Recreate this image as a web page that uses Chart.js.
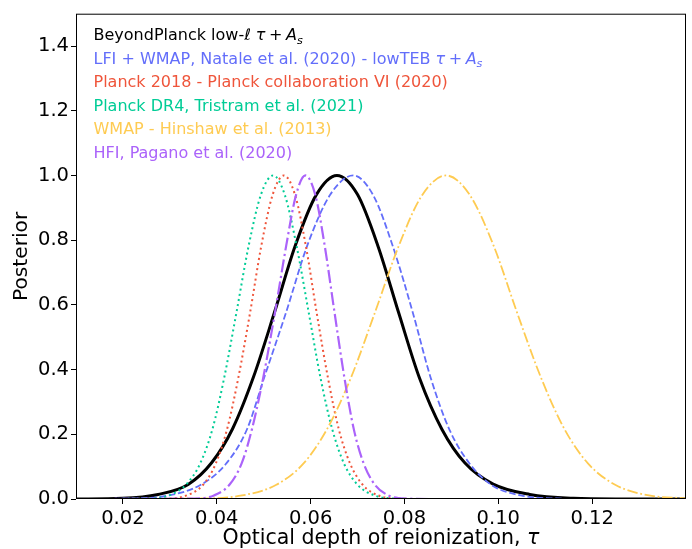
<!DOCTYPE html>
<html>
<head>
<meta charset="utf-8">
<script src="https://cdn.jsdelivr.net/npm/chart.js@4/dist/chart.umd.min.js"></script>
<style>
  html, body { margin: 0; padding: 0; background: #fff; }
  canvas { display: block; }
</style>
</head>
<body>
<canvas id="c" width="692" height="549"></canvas>
<script>
// Tick positions
const xTicks = [0.02, 0.04, 0.06, 0.08, 0.10, 0.12];
const yTicks = [0.0, 0.2, 0.4, 0.6, 0.8, 1.0, 1.2, 1.4];

// Axis titles and legend labels ($...$ marks math-mode text)
const xTitle = "Optical depth of reionization, $τ$";
const yTitle = "Posterior";
const seriesLabels = [
  "BeyondPlanck low-$ℓ$ $τ + A_s$",
  "LFI + WMAP, Natale et al. (2020) - lowTEB $τ + A_s$",
  "Planck 2018 - Planck collaboration VI (2020)",
  "Planck DR4, Tristram et al. (2021)",
  "WMAP - Hinshaw et al. (2013)",
  "HFI, Pagano et al. (2020)"
];

// BeyondPlanck low-l tau + A_s
const bpTau  = [0.010, 0.0199, 0.0275, 0.0339, 0.0389, 0.0434, 0.0478, 0.0523, 0.0567, 0.0612, 0.0656, 0.0700, 0.0744, 0.0788, 0.0832, 0.0880, 0.0929, 0.0989, 0.1067, 0.1160, 0.1250, 0.1400];
const bpPost = [0, 0.002, 0.014, 0.045, 0.112, 0.218, 0.376, 0.577, 0.782, 0.940, 1.000, 0.941, 0.780, 0.574, 0.374, 0.215, 0.111, 0.046, 0.014, 0.002, 0, 0];

// LFI + WMAP, Natale et al. (2020)
const natTau  = [0.010, 0.0219, 0.0298, 0.0366, 0.0418, 0.0464, 0.0501, 0.0548, 0.0593, 0.0642, 0.0691, 0.0733, 0.0775, 0.0818, 0.0856, 0.0896, 0.0939, 0.0986, 0.1048, 0.1123, 0.1200, 0.1400];
const natPost = [0, 0.0015, 0.011, 0.044, 0.106, 0.214, 0.375, 0.578, 0.784, 0.941, 1.000, 0.940, 0.782, 0.575, 0.374, 0.214, 0.109, 0.043, 0.011, 0.0015, 0, 0];

// Planck 2018 - Planck collaboration VI (2020)
const p18Tau  = [0.010, 0.0295, 0.0336, 0.0371, 0.0398, 0.0422, 0.0446, 0.0471, 0.0495, 0.0519, 0.0543, 0.0567, 0.0590, 0.0613, 0.0637, 0.0660, 0.0684, 0.0711, 0.0744, 0.0784, 0.0850, 0.1400];
const p18Post = [0, 0.0015, 0.011, 0.044, 0.110, 0.216, 0.375, 0.576, 0.783, 0.940, 1.000, 0.939, 0.781, 0.575, 0.374, 0.216, 0.110, 0.044, 0.011, 0.0015, 0, 0];

// Planck DR4, Tristram et al. (2021)
const dr4Tau  = [0.010, 0.0254, 0.0298, 0.0335, 0.0365, 0.0391, 0.0416, 0.0442, 0.0468, 0.0494, 0.0520, 0.0545, 0.0570, 0.0596, 0.0621, 0.0646, 0.0671, 0.0700, 0.0736, 0.0779, 0.0850, 0.1400];
const dr4Post = [0, 0.0015, 0.011, 0.045, 0.111, 0.217, 0.376, 0.577, 0.783, 0.940, 1.000, 0.940, 0.783, 0.576, 0.375, 0.216, 0.110, 0.044, 0.011, 0.0015, 0, 0];

// WMAP - Hinshaw et al. (2013)
const wmapTau  = [0.010, 0.0367, 0.0454, 0.0527, 0.0585, 0.0635, 0.0686, 0.0737, 0.0788, 0.0838, 0.0889, 0.0939, 0.0990, 0.1040, 0.1091, 0.1141, 0.1191, 0.1249, 0.1321, 0.1400];
const wmapPost = [0, 0.0015, 0.011, 0.044, 0.110, 0.216, 0.375, 0.576, 0.783, 0.940, 1.000, 0.940, 0.783, 0.576, 0.375, 0.216, 0.110, 0.044, 0.011, 0.002];

// HFI, Pagano et al. (2020)
const hfiTau  = [0.010, 0.0355, 0.0394, 0.0427, 0.0453, 0.0475, 0.0499, 0.0524, 0.0548, 0.0569, 0.0589, 0.0610, 0.0630, 0.0651, 0.0672, 0.0692, 0.0713, 0.0737, 0.0766, 0.0801, 0.0870, 0.1400];
const hfiPost = [0, 0.0015, 0.011, 0.044, 0.110, 0.216, 0.375, 0.576, 0.783, 0.940, 1.000, 0.940, 0.783, 0.576, 0.375, 0.216, 0.110, 0.044, 0.011, 0.0015, 0, 0];

const FONT = "'DejaVu Sans', 'Liberation Sans', sans-serif";

function pts(tau, post) {
  return tau.map((t, i) => ({ x: t, y: post[i] }));
}

function line(label, tau, post, color, width, dash, order) {
  return {
    label: label,
    data: pts(tau, post),
    borderColor: color,
    backgroundColor: color,
    borderWidth: width,
    borderDash: dash,
    borderCapStyle: 'butt',
    pointRadius: 0,
    fill: false,
    cubicInterpolationMode: 'monotone',
    order: order
  };
}

// Lays out a label, rendering $...$ parts in an italic math style with subscripts.
// When draw is false only the width is returned.
function mathLabel(ctx, text, x, y, size, draw) {
  const x0 = x;
  const put = (s, font, dy) => {
    ctx.font = font;
    if (draw) ctx.fillText(s, x, y + dy);
    x += ctx.measureText(s).width;
  };
  text.split('$').forEach((p, k) => {
    if (k % 2 === 0) {
      put(p, `${size}px ${FONT}`, 0);
    } else {
      for (let j = 0; j < p.length; j++) {
        const ch = p[j];
        if (ch === ' ') continue;
        if (ch === '+') {
          x += size * 0.22;
          put('+', `${size}px ${FONT}`, 0);
          x += size * 0.22;
        } else if (ch === '_') {
          put(p[++j], `italic ${size * 0.7}px ${FONT}`, size * 0.2);
        } else {
          put(ch, `italic ${size}px ${FONT}`, 0);
        }
      }
    }
  });
  return x - x0;
}

const textLegend = {
  id: 'textLegend',
  afterDraw(chart) {
    const ctx = chart.ctx;
    const a = chart.chartArea;
    ctx.save();
    ctx.textBaseline = 'alphabetic';
    ctx.textAlign = 'left';
    chart.data.datasets.forEach((ds, i) => {
      ctx.fillStyle = ds.borderColor;
      mathLabel(ctx, ds.label, a.left + 17.5, a.top + 26.7 + i * 23.5, 16, true);
    });
    ctx.restore();
  }
};

// x axis title with an italic tau
const xAxisTitle = {
  id: 'xAxisTitle',
  afterDraw(chart) {
    const ctx = chart.ctx;
    const a = chart.chartArea;
    const size = 20.5;
    ctx.save();
    ctx.fillStyle = '#000';
    ctx.textBaseline = 'alphabetic';
    ctx.textAlign = 'left';
    const w = mathLabel(ctx, xTitle, 0, 0, size, false);
    mathLabel(ctx, xTitle, (a.left + a.right) / 2 - w / 2, chart.height - 5, size, true);
    ctx.restore();
  }
};

const frame = {
  id: 'frame',
  afterDatasetsDraw(chart) {
    const ctx = chart.ctx;
    const a = chart.chartArea;
    ctx.save();
    ctx.strokeStyle = '#000';
    ctx.lineWidth = 1;
    ctx.strokeRect(a.left + 0.5, a.top + 0.5, a.right - a.left - 1, a.bottom - a.top - 1);
    ctx.restore();
  }
};

new Chart(document.getElementById('c'), {
  type: 'line',
  data: {
    datasets: [
      line(seriesLabels[0], bpTau, bpPost, '#000000', 3, [], 0),
      line(seriesLabels[1], natTau, natPost, '#636EFA', 1.8, [6.5, 2.8], -1),
      line(seriesLabels[2], p18Tau, p18Post, '#EF553B', 2, [2, 3.2], -2),
      line(seriesLabels[3], dr4Tau, dr4Post, '#00CC96', 2, [2, 3.2], -3),
      line(seriesLabels[4], wmapTau, wmapPost, '#FECB52', 1.8, [10.5, 2.7, 1.8, 2.7], -4),
      line(seriesLabels[5], hfiTau, hfiPost, '#AB63FA', 2.2, [13, 3.5, 2.2, 3.5], -5)
    ]
  },
  options: {
    responsive: false,
    animation: false,
    devicePixelRatio: 1,
    layout: { padding: { top: 12, right: 6, bottom: 0, left: 0 } },
    plugins: {
      legend: { display: false },
      tooltip: { enabled: false }
    },
    scales: {
      x: {
        type: 'linear',
        min: 0.01,
        max: 0.14,
        afterFit(scale) { scale.height = 50; },
        afterBuildTicks(scale) { scale.ticks = xTicks.map(v => ({ value: v })); },
        grid: { display: true, drawOnChartArea: false, drawTicks: true, tickLength: 5, color: '#000', lineWidth: 1 },
        border: { display: false },
        ticks: {
          color: '#000',
          font: { family: FONT, size: 19.5 },
          padding: 3,
          maxRotation: 0,
          autoSkip: false,
          callback: v => Number(v).toFixed(2)
        },
        title: { display: false }
      },
      y: {
        type: 'linear',
        min: 0,
        max: 1.5,
        afterFit(scale) { scale.width = 76; },
        afterBuildTicks(scale) { scale.ticks = yTicks.map(v => ({ value: v })); },
        grid: { display: true, drawOnChartArea: false, drawTicks: true, tickLength: 5, color: '#000', lineWidth: 1 },
        border: { display: false },
        ticks: {
          color: '#000',
          font: { family: FONT, size: 19.5 },
          padding: 2,
          autoSkip: false,
          callback: v => Number(v).toFixed(1)
        },
        title: {
          display: true,
          text: yTitle,
          color: '#000',
          font: { family: FONT, size: 20.2 },
          padding: { top: 10, bottom: 0 }
        }
      }
    }
  },
  plugins: [frame, textLegend, xAxisTitle]
});
</script>
</body>
</html>
